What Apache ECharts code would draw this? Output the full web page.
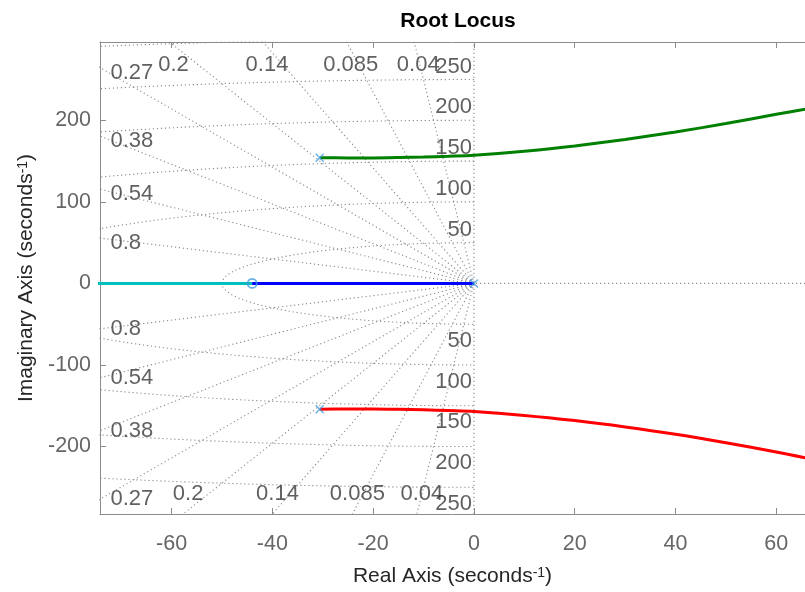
<!DOCTYPE html>
<html><head><meta charset="utf-8">
<script src="https://cdn.jsdelivr.net/npm/echarts@6/dist/echarts.min.js"></script>
<style>html,body{margin:0;padding:0;background:#fff}#c{width:805px;height:592px}</style>
</head><body><div id="c"></div>
<script>
// ---- data ----
const xLimits = [-74.2, 65.7];
const yLimits = [-282.7, 296];
const xTicks = [-60, -40, -20, 0, 20, 40, 60];
const yTicks = [-200, -100, 0, 100, 200];
const zetaValues = [0.04, 0.085, 0.14, 0.2, 0.27, 0.38, 0.54, 0.8];
const zetaLabels = ['0.04', '0.085', '0.14', '0.2', '0.27', '0.38', '0.54', '0.8'];
const omegaValues = [50, 100, 150, 200, 250, 300];
const omegaLabels = [50, 100, 150, 200, 250];
const polesX = [-30.6, -30.6, 0];
const polesY = [154.2, -154.2, 0];
const zerosX = [-44];
const zerosY = [0];
const upperBranchX = [-30.6, -25, -20, -15, -10, -5, 0, 10, 20, 30, 40, 50, 60, 66];
const upperBranchY = [154.2, 153.9, 153.9, 154.3, 155.0, 155.9, 157.1, 162.0, 168.6, 176.5, 185.7, 196.0, 207.3, 214.0];
const lowerBranchX = [-30.6, -25, -20, -15, -10, -5, 0, 10, 20, 30, 40, 50, 60, 66];
const lowerBranchY = [-154.2, -153.9, -153.9, -154.3, -155.0, -155.9, -157.0, -161.8, -168.2, -176.0, -185.0, -195.4, -206.6, -214.0];
const originBranchX = [0, -44];
const originBranchY = [0, 0];
const farBranchX = [-120, -44];
const farBranchY = [0, 0];

// ---- styles ----
const FONT = '"Liberation Sans", Arial, Helvetica, sans-serif';
const GRID_COLOR = '#8a8a8a';
const DOT = [1.2, 2.8];
const MARK = '#3c9be0';

const zip = (xs, ys) => xs.map((x, i) => [x, ys[i]]);
const series = [];
function gridLine(data) {
  series.push({type: 'line', data, showSymbol: false, silent: true, clip: true, z: 1,
    lineStyle: {color: GRID_COLOR, width: 1.1, type: DOT}});
}
// damping lines
zetaValues.forEach(z => {
  const s = Math.sqrt(1 - z * z);
  gridLine([[0, 0], [-1000 * z, 1000 * s]]);
  gridLine([[0, 0], [-1000 * z, -1000 * s]]);
});
// natural frequency semicircles
omegaValues.forEach(w => {
  const pts = [];
  for (let d = 90; d <= 270; d += 1) {
    const t = d * Math.PI / 180;
    pts.push([w * Math.cos(t), w * Math.sin(t)]);
  }
  gridLine(pts);
});
// axes lines of s-plane
gridLine([[0, yLimits[0]], [0, yLimits[1]]]);
gridLine([[xLimits[0], 0], [xLimits[1], 0]]);

// branches
function branch(data, color) {
  series.push({type: 'line', data, showSymbol: false, silent: true, clip: true, z: 3,
    smooth: 0.3, lineStyle: {color, width: 3}});
}
branch(zip(upperBranchX, upperBranchY), '#008000');
branch(zip(lowerBranchX, lowerBranchY), '#ff0000');
branch(zip(farBranchX, farBranchY), '#00bfbf');
branch(zip(originBranchX, originBranchY), '#0000ff');

// markers
series.push({type: 'scatter', data: zip(polesX, polesY), z: 5, silent: true,
  symbol: 'path://M0,0L10,10M10,0L0,10', symbolSize: 8,
  itemStyle: {color: 'rgba(0,0,0,0)', borderColor: MARK, borderWidth: 1.4}});
series.push({type: 'scatter', data: zip(zerosX, zerosY), z: 5, silent: true,
  symbol: 'circle', symbolSize: 9,
  itemStyle: {color: 'rgba(0,0,0,0)', borderColor: MARK, borderWidth: 1.8}});

// grid labels
const labelData = [];
const lblStyle = {color: '#383838', fontSize: 22, fontFamily: FONT};
zetaValues.forEach((z, i) => {
  const tn = Math.sqrt(1 - z * z) / z;
  const xTop = -yLimits[1] / tn;
  const xBot = yLimits[0] / tn;
  if (xTop > xLimits[0]) {
    labelData.push({value: [xTop, yLimits[1]], name: zetaLabels[i],
      label: Object.assign({offset: [4, 23], align: 'center'}, lblStyle)});
  } else {
    labelData.push({value: [xLimits[0], -tn * xLimits[0]], name: zetaLabels[i],
      label: Object.assign({offset: [10.5, 5], align: 'left'}, lblStyle)});
  }
  if (xBot > xLimits[0]) {
    labelData.push({value: [xBot, yLimits[0]], name: zetaLabels[i],
      label: Object.assign({offset: [5, -20], align: 'center'}, lblStyle)});
  } else {
    labelData.push({value: [xLimits[0], tn * xLimits[0]], name: zetaLabels[i],
      label: Object.assign({offset: [10.5, 0], align: 'left'}, lblStyle)});
  }
});
omegaLabels.forEach(w => {
  labelData.push({value: [0, w], name: String(w),
    label: Object.assign({offset: [-2, -13], align: 'right'}, lblStyle)});
  labelData.push({value: [0, -w], name: String(w),
    label: Object.assign({offset: [-2, 16.5], align: 'right'}, lblStyle)});
});
series.push({type: 'scatter', data: labelData, z: 6, silent: true, symbolSize: 1,
  itemStyle: {color: 'rgba(0,0,0,0)'},
  label: {show: true, position: 'inside', verticalAlign: 'middle', formatter: p => p.name}});

const nameStyle = {fontSize: 21, color: '#262626', fontFamily: FONT,
  rich: {sup: {fontSize: 14, color: '#262626', fontFamily: FONT, verticalAlign: 'top', padding: [0, 0, 6, 0]}}};
const axisLineStyle = {color: '#8c8c8c', width: 1};

const chart = echarts.init(document.getElementById('c'));
chart.setOption({
  animation: false,
  backgroundColor: '#fff',
  grid: {left: 100, top: 42, right: 0, bottom: 74, containLabel: false},
  graphic: [{type: 'text', x: 458, y: 21, z: 10,
    style: {text: 'Root Locus', font: 'bold 21px ' + FONT, fill: '#000', align: 'center', verticalAlign: 'middle'}}],
  xAxis: [
    {type: 'value', position: 'bottom', min: xLimits[0], max: xLimits[1],
      axisLine: {show: true, onZero: false, lineStyle: axisLineStyle},
      axisTick: {show: true, inside: true, length: 6, customValues: xTicks, lineStyle: axisLineStyle},
      axisLabel: {customValues: xTicks, color: '#666', fontSize: 21.5, fontFamily: FONT, margin: 19},
      splitLine: {show: false},
      name: 'Real Axis (seconds{sup|-1})', nameLocation: 'middle', nameGap: 52, nameTextStyle: nameStyle},
    {type: 'value', position: 'top', min: xLimits[0], max: xLimits[1],
      axisLine: {show: true, onZero: false, lineStyle: axisLineStyle},
      axisTick: {show: true, inside: true, length: 6, customValues: xTicks, lineStyle: axisLineStyle},
      axisLabel: {show: false}, splitLine: {show: false}}
  ],
  yAxis: [
    {type: 'value', position: 'left', min: yLimits[0], max: yLimits[1],
      axisLine: {show: true, onZero: false, lineStyle: axisLineStyle},
      axisTick: {show: true, inside: true, length: 6, customValues: yTicks, lineStyle: axisLineStyle},
      axisLabel: {customValues: yTicks, color: '#666', fontSize: 21.5, fontFamily: FONT, margin: 9},
      splitLine: {show: false},
      name: 'Imaginary Axis (seconds{sup|-1})', nameLocation: 'middle', nameGap: 59, nameTextStyle: nameStyle}
  ],
  series
});
</script></body></html>
